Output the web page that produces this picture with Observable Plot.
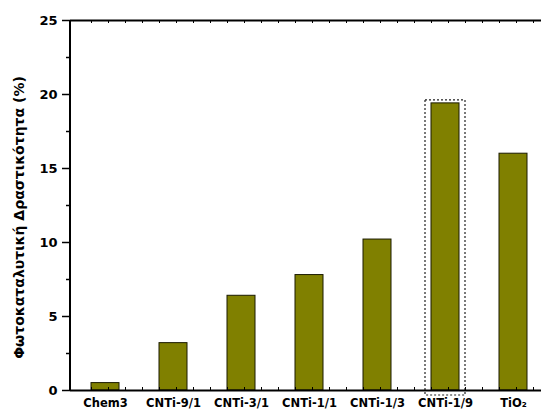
<!DOCTYPE html>
<html>
<head>
<meta charset="utf-8">
<script src="https://cdn.jsdelivr.net/npm/d3@7"></script>
<script src="https://cdn.jsdelivr.net/npm/@observablehq/plot@0.6"></script>
<style>
  html, body { margin: 0; padding: 0; background: #fff; }
  #chart svg { display: block; }
  #chart svg text { font-weight: bold; fill: #000; }
</style>
</head>
<body>
<div id="chart"></div>
<script>
// Photocatalytic activity (%) of each sample
const samples = ["Chem3", "CNTi-9/1", "CNTi-3/1", "CNTi-1/1", "CNTi-1/3", "CNTi-1/9", "TiO2"];
const activity = [0.5, 3.2, 6.4, 7.8, 10.2, 19.4, 16.0];
const highlighted = ["CNTi-1/9"];
const yTicks = [0, 5, 10, 15, 20, 25];
const yMinorTicks = [2.5, 7.5, 12.5, 17.5, 22.5];
const yLabel = "Φωτοκαταλυτική Δραστικότητα (%)";

const data = samples.map((s, i) => ({sample: s, value: activity[i]}));
const font = "'DejaVu Sans', 'Liberation Sans', Arial, sans-serif";

// Small minor ticks along the top and bottom frame lines (four per category step)
function frameMinorTicks(index, scales, values, dimensions) {
  const x = scales.x;
  const step = x.step();
  const g = d3.create("svg:g").attr("stroke", "#000").attr("stroke-width", 1);
  const yTop = dimensions.marginTop;
  const yBot = dimensions.height - dimensions.marginBottom;
  for (const s of samples) {
    for (let k = 0; k < 4; k++) {
      const px = Math.round(x(s) + k * step / 4) + 0.5;
      if (px >= dimensions.width) continue;
      g.append("line").attr("x1", px).attr("x2", px).attr("y1", yTop).attr("y2", yTop + 3);
      g.append("line").attr("x1", px).attr("x2", px).attr("y1", yBot).attr("y2", yBot - 3);
    }
  }
  return g.node();
}

// Left axis line
function leftAxisLine(index, scales, values, dimensions) {
  const px = dimensions.marginLeft;
  return d3.create("svg:line")
    .attr("x1", px).attr("x2", px)
    .attr("y1", dimensions.marginTop).attr("y2", dimensions.height - dimensions.marginBottom)
    .attr("stroke", "#000").attr("stroke-width", 2)
    .node();
}

const chart = Plot.plot({
  width: 541,
  height: 412,
  marginLeft: 70,
  marginTop: 20,
  marginBottom: 22,
  marginRight: 0,
  style: {fontFamily: font, background: "#fff"},
  x: {domain: samples, range: [70, 547], paddingInner: 0.59, paddingOuter: 0.277, label: null},
  y: {domain: [0, 25], label: null},
  marks: [
    Plot.barY(data, {x: "sample", y: "value", fill: "#808000", stroke: "#1a1a00", strokeWidth: 1}),
    Plot.barY(data.filter(d => highlighted.includes(d.sample)), {
      x: "sample", y: "value", fill: "none", stroke: "#222", strokeWidth: 1.2,
      strokeDasharray: "2,2", insetLeft: -6, insetRight: -6, insetTop: -3, insetBottom: -5
    }),
    Plot.ruleY([0, 25], {stroke: "#000", strokeWidth: 2}),
    leftAxisLine,
    frameMinorTicks,
    Plot.axisY({ticks: yMinorTicks, tickSize: 4, tickFormat: () => "", strokeWidth: 1.5}),
    Plot.axisY({ticks: yTicks, tickSize: 8, tickPadding: 5, fontSize: 13, label: null, strokeWidth: 1.5}),
    Plot.axisX({
      tickSize: 0, tickPadding: 8, fontSize: 11.5, label: null,
      tickFormat: d => d === "TiO2" ? "TiO₂" : d
    }),
    Plot.text([yLabel], {
      frameAnchor: "left", textAnchor: "middle", rotate: -90, dx: -51, dy: 12,
      fontSize: 14, fill: "#000"
    })
  ]
});

document.getElementById("chart").append(chart);
</script>
</body>
</html>
